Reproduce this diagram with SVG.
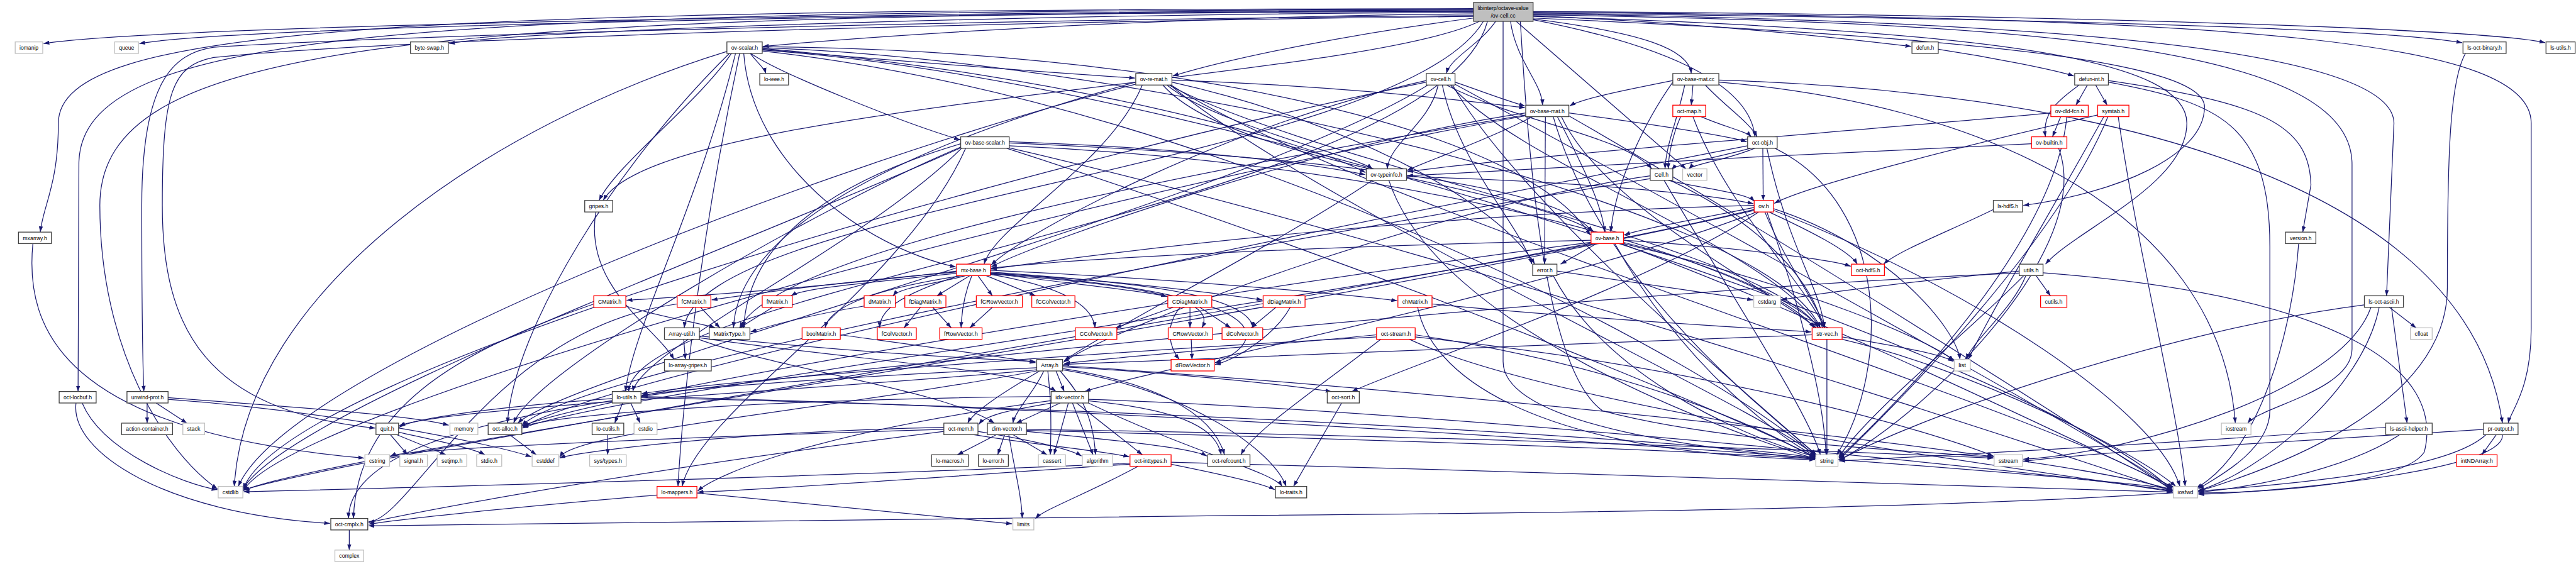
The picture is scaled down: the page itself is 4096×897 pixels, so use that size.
<svg xmlns="http://www.w3.org/2000/svg" width="4096" height="897" viewBox="0 0 4096 897">
<defs>
<marker id="a" markerWidth="14" markerHeight="10" refX="14" refY="5" orient="auto" markerUnits="userSpaceOnUse"><path d="M0,0L14,5L0,10z" fill="#191970"/></marker>
<style>
.e path{fill:none;stroke:#191970;stroke-width:1.9;marker-end:url(#a)}
.n rect{fill:#fff;stroke:#404040;stroke-width:2}
.x rect{fill:#fff;stroke:#bfbfbf;stroke-width:2}
.r rect{fill:#fff;stroke:#ff0000;stroke-width:2}
.m rect{fill:#bfbfbf;stroke:#404040;stroke-width:2}
text{font-family:"Liberation Sans",Arial,sans-serif;font-size:14px;fill:#000;text-anchor:middle}
</style>
</defs>
<rect width="4096" height="897" fill="#fff"/>
<g transform="scale(0.65337)">
<g id="edges" class="e">
<path d="M3586,24 C2400,28 400,60 106,106"/>
<path d="M3586,26 C2400,30 600,62 339,106"/>
<path d="M3586,30 C2600,34 1300,70 1093,106"/>
<path d="M3586,34 C2800,40 2100,90 1857,113"/>
<path d="M3586,21 C1000,24 142,60 142,300 C142,450 105,500 98,565"/>
<path d="M3586,23 C1000,27 192,70 192,400 L190,953"/>
<path d="M3586,38 C2200,50 900,90 520,115 C420,130 345,200 345,500 C345,800 348,900 350,953"/>
<path d="M3586,40 C2200,55 900,100 520,140 C420,160 395,220 395,500 C395,800 500,1000 913,1042"/>
<path d="M3586,28 C1000,33 243,100 243,500 C243,850 400,1100 529,1190"/>
<path d="M3600,52 C3300,200 1600,250 1468,488"/>
<path d="M3610,52 C3400,400 1700,500 1665,798"/>
<path d="M3620,52 C3500,500 1540,700 1530,953"/>
<path d="M3640,52 C3600,110 3530,140 3520,179"/>
<path d="M3731,46 C4000,80 4110,120 4116,179"/>
<path d="M3676,52 C3690,150 3752,200 3754,256"/>
<path d="M3586,44 C3300,80 3000,140 2854,185"/>
<path d="M3731,48 C4100,120 4260,220 4271,333"/>
<path d="M3731,38 C4200,60 4500,95 4651,113"/>
<path d="M3731,32 C5000,45 5800,70 5992,104"/>
<path d="M3731,28 C5000,35 6050,70 6194,104"/>
<path d="M3731,44 C4800,90 5365,150 5365,260 C5365,380 5150,470 4924,500"/>
<path d="M3731,34 C5000,50 5826,120 5826,300 L5808,720"/>
<path d="M3731,30 C5500,42 6160,100 6160,300 L6160,800 C6160,950 6110,1000 6104,1030"/>
<path d="M3731,40 C4900,75 5322,150 5322,300 C5322,450 5050,560 4978,643"/>
<path d="M3731,36 C5000,55 5724,120 5724,400 L5724,850 C5724,950 5500,990 5470,1030"/>
<path d="M3700,52 C3720,400 3760,900 3900,1000 C4200,1080 4700,1100 4851,1113"/>
<path d="M3690,52 L4103,411"/>
<path d="M3658,52 L3658,880 C3658,1050 4250,1100 4417,1117"/>
<path d="M1826,130 C1840,150 1860,165 1864,179"/>
<path d="M1855,120 C2200,150 2600,180 2762,190"/>
<path d="M1827,130 C1900,180 2200,300 2336,340"/>
<path d="M1780,130 C1700,250 1500,400 1458,488"/>
<path d="M1790,130 C1700,500 1540,800 1522,953"/>
<path d="M1800,130 C1700,600 1660,1000 1650,1184"/>
<path d="M1810,130 C1830,400 2100,600 2326,650"/>
<path d="M1775,130 C1500,400 1250,800 1235,1030"/>
<path d="M1855,116 C2800,150 4300,500 4430,798"/>
<path d="M1855,114 C2800,120 3700,300 3870,572"/>
<path d="M1855,118 C2600,180 3200,350 3323,420"/>
<path d="M1770,125 C1200,300 600,700 570,1184"/>
<path d="M1855,122 C3000,200 5000,900 5287,1195"/>
<path d="M1855,124 C3000,250 4200,900 4419,1112"/>
<path d="M2780,207 C2700,400 2420,550 2395,643"/>
<path d="M2764,200 C2400,300 1800,500 1785,798"/>
<path d="M2852,195 C3300,210 3600,250 3711,262"/>
<path d="M2830,207 C3000,400 3700,450 3880,565"/>
<path d="M2840,207 C2950,300 3300,380 3340,411"/>
<path d="M2852,200 C3300,300 3650,500 3735,643"/>
<path d="M2845,207 C3200,400 4300,600 4425,798"/>
<path d="M2764,205 C2000,400 700,900 580,1184"/>
<path d="M2850,207 C3300,500 5000,1000 5287,1192"/>
<path d="M2848,207 C3200,500 4300,1000 4419,1110"/>
<path d="M3471,196 C3000,300 2500,560 2412,645"/>
<path d="M3475,207 C3000,500 1400,900 1260,1030"/>
<path d="M3530,207 C3700,400 4300,600 4430,798"/>
<path d="M3520,207 C3700,300 3950,330 4020,411"/>
<path d="M3510,207 C3550,400 3700,550 3728,643"/>
<path d="M3541,200 C3600,220 3650,240 3711,258"/>
<path d="M3500,207 C3480,300 3380,350 3376,411"/>
<path d="M3471,200 C2500,400 700,900 592,1190"/>
<path d="M3541,205 C3900,400 5000,1000 5287,1188"/>
<path d="M3535,207 C3700,500 4300,1000 4420,1107"/>
<path d="M4100,207 C4080,300 4055,350 4052,411"/>
<path d="M4150,207 C4200,260 4260,300 4276,333"/>
<path d="M4120,207 L4116,256"/>
<path d="M4071,200 C4000,300 3930,450 3920,565"/>
<path d="M4071,196 C3950,220 3850,240 3820,258"/>
<path d="M4183,195 C5000,220 6000,400 6090,1030"/>
<path d="M4183,200 C4800,250 5400,500 5440,1030"/>
<path d="M4717,120 C4850,140 5000,170 5047,185"/>
<path d="M5080,207 L5052,256"/>
<path d="M5100,207 L5128,256"/>
<path d="M5060,207 C5000,250 4970,280 4978,333"/>
<path d="M5131,196 C5500,250 5620,300 5624,450 L5604,565"/>
<path d="M5131,200 C5400,250 5524,300 5524,600 L5524,1000 C5524,1100 5380,1170 5350,1190"/>
<path d="M3713,275 C3200,350 2500,600 2412,650"/>
<path d="M3713,280 C3000,400 1900,600 1800,798"/>
<path d="M3800,284 C3900,500 4300,700 4420,798"/>
<path d="M3761,284 L3759,643"/>
<path d="M3818,275 C4000,300 4200,330 4251,345"/>
<path d="M3790,284 C3850,400 3900,500 3905,565"/>
<path d="M3730,284 C3600,350 3450,400 3425,415"/>
<path d="M3713,282 C2500,500 700,1000 592,1195"/>
<path d="M3818,282 C4200,500 5000,1000 5287,1194"/>
<path d="M3780,284 C3900,700 4300,1000 4421,1108"/>
<path d="M4090,284 C4070,330 4060,380 4060,411"/>
<path d="M4140,284 C4200,310 4250,320 4262,333"/>
<path d="M4120,284 C4200,500 4400,700 4440,798"/>
<path d="M2350,361 C2200,700 1700,1000 1660,1184"/>
<path d="M2340,361 C2100,600 1560,850 1540,953"/>
<path d="M2338,358 C2000,500 1300,900 1250,1030"/>
<path d="M2456,355 C3500,400 4300,650 4415,798"/>
<path d="M2338,350 C2000,450 1820,600 1810,798"/>
<path d="M2456,348 C3200,380 3800,450 3875,565"/>
<path d="M2456,345 C2900,360 3200,400 3322,425"/>
<path d="M2338,360 C1800,600 700,1000 590,1192"/>
<path d="M2456,360 C3500,600 5000,1100 5287,1196"/>
<path d="M2450,361 C3500,700 4300,1050 4418,1113"/>
<path d="M4270,361 C4200,390 4120,400 4110,411"/>
<path d="M4260,361 C4150,390 4080,400 4068,413"/>
<path d="M4290,361 L4291,488"/>
<path d="M4253,355 C3500,500 1500,900 1272,1040"/>
<path d="M4300,361 C4350,600 4430,700 4440,798"/>
<path d="M4320,361 C4600,500 4600,900 4470,1107"/>
<path d="M4016,428 C3500,500 2700,800 2588,882"/>
<path d="M4060,439 C4150,460 4250,470 4270,490"/>
<path d="M4065,439 C4300,550 4420,700 4435,798"/>
<path d="M4016,435 C3000,600 1400,900 1270,1036"/>
<path d="M4050,439 C4200,700 4400,1000 4430,1107"/>
<path d="M3423,430 C3800,440 4150,470 4267,496"/>
<path d="M3340,439 C3100,600 2700,800 2590,878"/>
<path d="M3380,439 C3500,800 4200,1050 4418,1117"/>
<path d="M1450,516 C1420,700 1600,800 1640,875"/>
<path d="M80,593 C60,800 150,1050 886,1115"/>
<path d="M2328,660 C2000,700 1700,720 1525,731"/>
<path d="M2328,662 C2000,690 1800,720 1732,730"/>
<path d="M2330,665 C2100,690 1960,700 1925,720"/>
<path d="M2350,671 C2280,690 2190,700 2173,720"/>
<path d="M2360,671 L2280,720"/>
<path d="M2380,671 L2415,720"/>
<path d="M2400,671 L2520,720"/>
<path d="M2410,665 C2600,690 2800,710 2840,722"/>
<path d="M2410,662 C2800,690 3000,720 3072,730"/>
<path d="M2410,658 C2900,680 3300,720 3400,732"/>
<path d="M2340,671 C2150,700 2020,740 2008,798"/>
<path d="M2335,671 C2180,720 2140,760 2141,798"/>
<path d="M2365,671 C2345,720 2340,760 2339,798"/>
<path d="M2410,668 C2600,700 2660,750 2665,798"/>
<path d="M2410,667 C2900,700 2950,750 2925,798"/>
<path d="M2410,666 C2900,690 3040,740 3050,798"/>
<path d="M2410,664 C3200,720 3050,850 2957,883"/>
<path d="M1523,745 C1600,770 1720,790 1740,798"/>
<path d="M1445,740 C1100,860 870,1000 860,1262"/>
<path d="M1705,748 L1752,798"/>
<path d="M1648,740 C1200,800 1000,1268 897,1270"/>
<path d="M1880,748 L1800,798"/>
<path d="M2103,745 C1950,770 1850,800 1827,808"/>
<path d="M2240,748 L2200,798"/>
<path d="M2270,748 L2315,798"/>
<path d="M2415,748 L2360,798"/>
<path d="M2855,748 L2715,798"/>
<path d="M2896,748 L2896,798"/>
<path d="M2920,748 L2995,798"/>
<path d="M2872,748 C2830,800 2850,850 2870,875"/>
<path d="M3105,748 L3045,798"/>
<path d="M3140,748 C3100,820 3000,880 2957,887"/>
<path d="M2899,826 L2901,875"/>
<path d="M2045,815 C2300,850 2450,870 2520,883"/>
<path d="M3485,740 C3900,780 4300,800 4408,808"/>
<path d="M3450,748 C3480,900 3700,1100 4417,1119"/>
<path d="M1664,826 L1668,875"/>
<path d="M1702,818 C2000,850 2300,870 2520,880"/>
<path d="M1700,826 C1900,900 2300,950 2420,1030"/>
<path d="M1702,822 C2100,880 2500,900 2570,953"/>
<path d="M2570,903 L2590,953"/>
<path d="M2540,903 C2520,950 2470,1000 2465,1030"/>
<path d="M2530,903 C2450,950 2370,1000 2355,1030"/>
<path d="M2586,900 C2900,950 3100,1100 3130,1184"/>
<path d="M2586,893 C2900,910 3150,940 3240,953"/>
<path d="M2523,895 C2200,910 1700,940 1562,962"/>
<path d="M2523,900 C2000,950 1100,990 972,1036"/>
<path d="M2586,897 C2800,930 2950,1000 2980,1107"/>
<path d="M2550,903 C2555,950 2560,1000 2556,1107"/>
<path d="M2580,903 C2620,950 2660,1000 2666,1107"/>
<path d="M2523,903 C2000,1000 1400,1050 1362,1113"/>
<path d="M2586,890 C3500,950 5000,1100 5287,1193"/>
<path d="M2560,981 C2450,1000 2400,1010 2382,1033"/>
<path d="M2580,981 L2473,1030"/>
<path d="M2600,981 L2565,1107"/>
<path d="M2610,981 L2660,1107"/>
<path d="M2620,981 L2780,1107"/>
<path d="M2645,975 C2900,1000 2960,1050 2972,1107"/>
<path d="M2649,981 C2900,1100 3100,1150 3120,1184"/>
<path d="M2649,972 C3500,1000 5000,1150 5287,1195"/>
<path d="M2558,965 C2000,970 1400,1000 1272,1038"/>
<path d="M2558,975 C2000,1050 1750,1150 1698,1195"/>
<path d="M2297,1040 C1800,1050 1400,1100 1362,1115"/>
<path d="M2297,1045 C1800,1060 1000,1090 950,1110"/>
<path d="M2297,1050 C1500,1150 1000,1250 897,1272"/>
<path d="M2380,1050 C2500,1070 2600,1090 2632,1110"/>
<path d="M2370,1058 C2500,1080 2700,1100 2748,1112"/>
<path d="M2425,1058 L2330,1107"/>
<path d="M2445,1058 L2428,1107"/>
<path d="M2465,1058 L2548,1107"/>
<path d="M2455,1058 C2470,1150 2485,1200 2488,1262"/>
<path d="M2498,1050 C2700,1070 2900,1090 2937,1110"/>
<path d="M2498,1045 C3500,1060 4500,1100 4851,1115"/>
<path d="M2498,1048 C3400,1070 4200,1100 4417,1118"/>
<path d="M2770,1135 C2650,1200 2540,1240 2520,1262"/>
<path d="M2750,1130 C2300,1160 1900,1190 1698,1198"/>
<path d="M2850,1130 C3000,1160 3080,1180 3102,1192"/>
<path d="M2750,1128 C2000,1160 900,1190 593,1197"/>
<path d="M2850,1125 C3800,1150 5000,1190 5287,1198"/>
<path d="M1696,1200 C2000,1230 2300,1260 2463,1275"/>
<path d="M1599,1205 C1300,1230 1000,1260 897,1276"/>
<path d="M3265,981 L3148,1184"/>
<path d="M850,1290 L850,1339"/>
<path d="M1515,981 L1496,1030"/>
<path d="M1535,981 L1558,1030"/>
<path d="M1490,970 C1200,990 1000,1020 972,1040"/>
<path d="M1490,975 C1000,1050 850,1150 848,1262"/>
<path d="M1560,965 C3000,1000 5000,1150 5287,1190"/>
<path d="M1560,968 C3000,1000 4200,1080 4417,1114"/>
<path d="M1479,1058 L1479,1107"/>
<path d="M950,1058 L992,1107"/>
<path d="M965,1058 L1085,1107"/>
<path d="M970,1052 C1050,1070 1150,1090 1180,1107"/>
<path d="M1240,1058 L1305,1107"/>
<path d="M358,981 L358,1030"/>
<path d="M380,981 L455,1030"/>
<path d="M409,968 C700,990 1000,1010 1092,1035"/>
<path d="M409,972 C800,1000 1200,1080 1293,1112"/>
<path d="M185,981 C170,1100 400,1250 803,1274"/>
<path d="M200,981 C250,1100 450,1180 529,1192"/>
<path d="M4446,826 L4446,1107"/>
<path d="M4410,815 C3800,840 2900,870 2588,887"/>
<path d="M4483,820 C4600,840 4720,860 4754,880"/>
<path d="M4483,826 C4800,900 5200,1100 5295,1184"/>
<path d="M3350,815 C3100,840 2700,870 2590,885"/>
<path d="M3360,826 C3200,950 3050,1050 3020,1107"/>
<path d="M3350,820 C2800,850 1800,920 1562,958"/>
<path d="M3444,815 C4000,900 4300,1050 4418,1115"/>
<path d="M3444,820 C4200,900 4700,1050 4851,1110"/>
<path d="M3430,826 C3800,1000 5000,1150 5287,1197"/>
<path d="M4851,510 C4750,560 4620,610 4584,643"/>
<path d="M4955,671 L4990,720"/>
<path d="M4930,671 C4900,750 4800,830 4785,875"/>
<path d="M4914,660 C4700,680 4450,710 4335,730"/>
<path d="M4914,665 C4000,700 2000,900 1562,965"/>
<path d="M4972,664 C5700,720 5950,900 5900,1100 C5850,1180 5500,1200 5350,1200"/>
<path d="M4925,671 C4800,800 4550,1000 4475,1112"/>
<path d="M3789,660 C4000,690 4200,720 4266,730"/>
<path d="M3780,671 C3900,900 4200,1050 4418,1112"/>
<path d="M4269,505 C4150,530 4000,555 3953,572"/>
<path d="M4305,516 C4400,560 4500,610 4520,643"/>
<path d="M4295,516 C4350,650 4430,750 4440,798"/>
<path d="M4269,500 C3500,520 2800,600 2412,655"/>
<path d="M4275,516 C3800,700 2800,900 2640,953"/>
<path d="M4280,516 C4000,700 3400,900 3290,953"/>
<path d="M4269,510 C3500,700 1500,950 1272,1042"/>
<path d="M4316,508 C4600,600 4760,800 4770,875"/>
<path d="M4269,512 C3000,800 800,1100 593,1194"/>
<path d="M4316,512 C4800,700 5250,1000 5305,1184"/>
<path d="M4300,516 C4400,800 4440,1000 4444,1107"/>
<path d="M3885,593 L3798,643"/>
<path d="M3951,585 C4200,600 4450,630 4504,648"/>
<path d="M3951,590 C4200,650 4400,750 4425,798"/>
<path d="M3872,585 C3200,600 2600,630 2412,653"/>
<path d="M3872,590 C3000,700 1500,950 1272,1036"/>
<path d="M3951,593 C4400,700 4700,830 4755,878"/>
<path d="M3872,592 C2800,800 800,1120 593,1193"/>
<path d="M3945,593 C4500,800 5100,1100 5290,1186"/>
<path d="M3930,593 C4100,900 4350,1080 4420,1110"/>
<path d="M5015,284 L4995,333"/>
<path d="M4991,275 C4500,320 3700,380 3425,418"/>
<path d="M5030,284 C5000,600 4600,1000 4475,1115"/>
<path d="M5105,280 C4800,350 4400,450 4318,495"/>
<path d="M5130,284 C5000,600 4600,1000 4476,1118"/>
<path d="M5120,284 C5000,500 4850,750 4790,875"/>
<path d="M5155,284 C5200,600 5300,1000 5318,1184"/>
<path d="M4944,350 C4500,370 3700,410 3425,428"/>
<path d="M5010,361 C5100,600 4700,1000 4476,1120"/>
<path d="M5594,593 C5580,800 5500,1100 5345,1188"/>
<path d="M6000,130 C5960,200 5956,400 5956,700 C5956,1000 5500,1150 5350,1196"/>
<path d="M5815,748 L5880,798"/>
<path d="M5820,748 L5858,1030"/>
<path d="M5770,748 C5700,950 5200,1100 4924,1118"/>
<path d="M5790,748 C5750,950 5500,1150 5350,1194"/>
<path d="M5754,742 C5300,800 4700,1000 4476,1120"/>
<path d="M5806,1040 C5300,1080 4700,1110 4476,1122"/>
<path d="M5840,1058 C5700,1150 5450,1190 5350,1198"/>
<path d="M6075,1058 L6040,1107"/>
<path d="M6090,1058 C6100,1150 5500,1200 5350,1203"/>
<path d="M6050,1058 C5900,1200 5000,1240 3000,1255 C2000,1262 1200,1278 897,1280"/>
<path d="M6044,1045 C5500,1080 5100,1100 4924,1123"/>
</g>
<g id="main" class="m"><rect x="3586" y="6" width="145" height="46"/><text x="3658" y="25" textLength="124" lengthAdjust="spacingAndGlyphs">libinterp/octave-value</text><text x="3658" y="43" textLength="60" lengthAdjust="spacingAndGlyphs">/ov-cell.cc</text></g>
<g id="iomanip" class="x"><rect x="37" y="102" width="67" height="28"/><text x="70.5" y="121" textLength="46" lengthAdjust="spacingAndGlyphs">iomanip</text></g>
<g id="queue" class="x"><rect x="279" y="102" width="58" height="28"/><text x="308" y="121" textLength="37" lengthAdjust="spacingAndGlyphs">queue</text></g>
<g id="byte-swap" class="n"><rect x="999" y="102" width="92" height="28"/><text x="1045" y="121" textLength="71" lengthAdjust="spacingAndGlyphs">byte-swap.h</text></g>
<g id="ov-scalar" class="n"><rect x="1769" y="102" width="86" height="28"/><text x="1812" y="121" textLength="65" lengthAdjust="spacingAndGlyphs">ov-scalar.h</text></g>
<g id="defun" class="n"><rect x="4653" y="102" width="64" height="28"/><text x="4685" y="121" textLength="43" lengthAdjust="spacingAndGlyphs">defun.h</text></g>
<g id="ls-oct-binary" class="n"><rect x="5994" y="102" width="105" height="28"/><text x="6046.5" y="121" textLength="84" lengthAdjust="spacingAndGlyphs">ls-oct-binary.h</text></g>
<g id="ls-utils" class="n"><rect x="6196" y="102" width="71" height="28"/><text x="6231.5" y="121" textLength="50" lengthAdjust="spacingAndGlyphs">ls-utils.h</text></g>
<g id="lo-ieee" class="n"><rect x="1849" y="179" width="70" height="28"/><text x="1884" y="198" textLength="49" lengthAdjust="spacingAndGlyphs">lo-ieee.h</text></g>
<g id="ov-re-mat" class="n"><rect x="2764" y="179" width="88" height="28"/><text x="2808" y="198" textLength="67" lengthAdjust="spacingAndGlyphs">ov-re-mat.h</text></g>
<g id="ov-cell-h" class="n"><rect x="3471" y="179" width="70" height="28"/><text x="3506" y="198" textLength="49" lengthAdjust="spacingAndGlyphs">ov-cell.h</text></g>
<g id="ov-base-mat-cc" class="n"><rect x="4071" y="179" width="112" height="28"/><text x="4127" y="198" textLength="91" lengthAdjust="spacingAndGlyphs">ov-base-mat.cc</text></g>
<g id="defun-int" class="n"><rect x="5049" y="179" width="82" height="28"/><text x="5090" y="198" textLength="61" lengthAdjust="spacingAndGlyphs">defun-int.h</text></g>
<g id="ov-base-mat-h" class="n"><rect x="3713" y="256" width="105" height="28"/><text x="3765.5" y="275" textLength="84" lengthAdjust="spacingAndGlyphs">ov-base-mat.h</text></g>
<g id="oct-map" class="r"><rect x="4071" y="256" width="80" height="28"/><text x="4111" y="275" textLength="59" lengthAdjust="spacingAndGlyphs">oct-map.h</text></g>
<g id="ov-dld-fcn" class="r"><rect x="4991" y="256" width="91" height="28"/><text x="5036.5" y="275" textLength="70" lengthAdjust="spacingAndGlyphs">ov-dld-fcn.h</text></g>
<g id="symtab" class="r"><rect x="5105" y="256" width="76" height="28"/><text x="5143" y="275" textLength="55" lengthAdjust="spacingAndGlyphs">symtab.h</text></g>
<g id="ov-base-scalar" class="n"><rect x="2338" y="333" width="118" height="28"/><text x="2397" y="352" textLength="97" lengthAdjust="spacingAndGlyphs">ov-base-scalar.h</text></g>
<g id="oct-obj" class="n"><rect x="4253" y="333" width="72" height="28"/><text x="4289" y="352" textLength="51" lengthAdjust="spacingAndGlyphs">oct-obj.h</text></g>
<g id="ov-builtin" class="r"><rect x="4944" y="333" width="86" height="28"/><text x="4987" y="352" textLength="65" lengthAdjust="spacingAndGlyphs">ov-builtin.h</text></g>
<g id="ov-typeinfo" class="n"><rect x="3325" y="411" width="98" height="28"/><text x="3374" y="430" textLength="77" lengthAdjust="spacingAndGlyphs">ov-typeinfo.h</text></g>
<g id="Cell" class="n"><rect x="4016" y="411" width="55" height="28"/><text x="4043.5" y="430" textLength="34" lengthAdjust="spacingAndGlyphs">Cell.h</text></g>
<g id="vector" class="x"><rect x="4095" y="411" width="59" height="28"/><text x="4124.5" y="430" textLength="38" lengthAdjust="spacingAndGlyphs">vector</text></g>
<g id="gripes" class="n"><rect x="1423" y="488" width="68" height="28"/><text x="1457" y="507" textLength="47" lengthAdjust="spacingAndGlyphs">gripes.h</text></g>
<g id="ov" class="r"><rect x="4269" y="488" width="47" height="28"/><text x="4292.5" y="507" textLength="26" lengthAdjust="spacingAndGlyphs">ov.h</text></g>
<g id="ls-hdf5" class="n"><rect x="4851" y="488" width="71" height="28"/><text x="4886.5" y="507" textLength="50" lengthAdjust="spacingAndGlyphs">ls-hdf5.h</text></g>
<g id="mxarray" class="n"><rect x="45" y="565" width="80" height="28"/><text x="85" y="584" textLength="59" lengthAdjust="spacingAndGlyphs">mxarray.h</text></g>
<g id="ov-base" class="r"><rect x="3872" y="565" width="79" height="28"/><text x="3911.5" y="584" textLength="58" lengthAdjust="spacingAndGlyphs">ov-base.h</text></g>
<g id="version" class="n"><rect x="5562" y="565" width="74" height="28"/><text x="5599" y="584" textLength="53" lengthAdjust="spacingAndGlyphs">version.h</text></g>
<g id="mx-base" class="r"><rect x="2328" y="643" width="82" height="28"/><text x="2369" y="662" textLength="61" lengthAdjust="spacingAndGlyphs">mx-base.h</text></g>
<g id="error" class="n"><rect x="3730" y="643" width="59" height="28"/><text x="3759.5" y="662" textLength="38" lengthAdjust="spacingAndGlyphs">error.h</text></g>
<g id="oct-hdf5" class="r"><rect x="4506" y="643" width="80" height="28"/><text x="4546" y="662" textLength="59" lengthAdjust="spacingAndGlyphs">oct-hdf5.h</text></g>
<g id="utils" class="n"><rect x="4914" y="643" width="58" height="28"/><text x="4943" y="662" textLength="37" lengthAdjust="spacingAndGlyphs">utils.h</text></g>
<g id="CMatrix" class="r"><rect x="1445" y="720" width="78" height="28"/><text x="1484" y="739" textLength="57" lengthAdjust="spacingAndGlyphs">CMatrix.h</text></g>
<g id="fCMatrix" class="r"><rect x="1648" y="720" width="82" height="28"/><text x="1689" y="739" textLength="61" lengthAdjust="spacingAndGlyphs">fCMatrix.h</text></g>
<g id="fMatrix" class="r"><rect x="1855" y="720" width="73" height="28"/><text x="1891.5" y="739" textLength="52" lengthAdjust="spacingAndGlyphs">fMatrix.h</text></g>
<g id="dMatrix" class="r"><rect x="2103" y="720" width="76" height="28"/><text x="2141" y="739" textLength="55" lengthAdjust="spacingAndGlyphs">dMatrix.h</text></g>
<g id="fDiagMatrix" class="r"><rect x="2202" y="720" width="100" height="28"/><text x="2252" y="739" textLength="79" lengthAdjust="spacingAndGlyphs">fDiagMatrix.h</text></g>
<g id="fCRowVector" class="r"><rect x="2376" y="720" width="112" height="28"/><text x="2432" y="739" textLength="91" lengthAdjust="spacingAndGlyphs">fCRowVector.h</text></g>
<g id="fCColVector" class="r"><rect x="2511" y="720" width="105" height="28"/><text x="2563.5" y="739" textLength="84" lengthAdjust="spacingAndGlyphs">fCColVector.h</text></g>
<g id="CDiagMatrix" class="r"><rect x="2842" y="720" width="107" height="28"/><text x="2895.5" y="739" textLength="86" lengthAdjust="spacingAndGlyphs">CDiagMatrix.h</text></g>
<g id="dDiagMatrix" class="r"><rect x="3074" y="720" width="102" height="28"/><text x="3125" y="739" textLength="81" lengthAdjust="spacingAndGlyphs">dDiagMatrix.h</text></g>
<g id="chMatrix" class="r"><rect x="3402" y="720" width="83" height="28"/><text x="3443.5" y="739" textLength="62" lengthAdjust="spacingAndGlyphs">chMatrix.h</text></g>
<g id="cstdarg" class="x"><rect x="4268" y="720" width="65" height="28"/><text x="4300.5" y="739" textLength="44" lengthAdjust="spacingAndGlyphs">cstdarg</text></g>
<g id="cutils" class="r"><rect x="4966" y="720" width="64" height="28"/><text x="4998" y="739" textLength="43" lengthAdjust="spacingAndGlyphs">cutils.h</text></g>
<g id="ls-oct-ascii" class="n"><rect x="5754" y="720" width="95" height="28"/><text x="5801.5" y="739" textLength="74" lengthAdjust="spacingAndGlyphs">ls-oct-ascii.h</text></g>
<g id="Array-util" class="n"><rect x="1617" y="798" width="85" height="28"/><text x="1659.5" y="817" textLength="64" lengthAdjust="spacingAndGlyphs">Array-util.h</text></g>
<g id="MatrixType" class="n"><rect x="1726" y="798" width="99" height="28"/><text x="1775.5" y="817" textLength="78" lengthAdjust="spacingAndGlyphs">MatrixType.h</text></g>
<g id="boolMatrix" class="r"><rect x="1952" y="798" width="93" height="28"/><text x="1998.5" y="817" textLength="72" lengthAdjust="spacingAndGlyphs">boolMatrix.h</text></g>
<g id="fColVector" class="r"><rect x="2135" y="798" width="95" height="28"/><text x="2182.5" y="817" textLength="74" lengthAdjust="spacingAndGlyphs">fColVector.h</text></g>
<g id="fRowVector" class="r"><rect x="2287" y="798" width="103" height="28"/><text x="2338.5" y="817" textLength="82" lengthAdjust="spacingAndGlyphs">fRowVector.h</text></g>
<g id="CColVector" class="r"><rect x="2617" y="798" width="101" height="28"/><text x="2667.5" y="817" textLength="80" lengthAdjust="spacingAndGlyphs">CColVector.h</text></g>
<g id="CRowVector" class="r"><rect x="2843" y="798" width="108" height="28"/><text x="2897" y="817" textLength="87" lengthAdjust="spacingAndGlyphs">CRowVector.h</text></g>
<g id="dColVector" class="r"><rect x="2974" y="798" width="99" height="28"/><text x="3023.5" y="817" textLength="78" lengthAdjust="spacingAndGlyphs">dColVector.h</text></g>
<g id="oct-stream" class="r"><rect x="3350" y="798" width="94" height="28"/><text x="3397" y="817" textLength="73" lengthAdjust="spacingAndGlyphs">oct-stream.h</text></g>
<g id="str-vec" class="r"><rect x="4410" y="798" width="73" height="28"/><text x="4446.5" y="817" textLength="52" lengthAdjust="spacingAndGlyphs">str-vec.h</text></g>
<g id="cfloat" class="x"><rect x="5866" y="798" width="53" height="28"/><text x="5892.5" y="817" textLength="32" lengthAdjust="spacingAndGlyphs">cfloat</text></g>
<g id="lo-array-gripes" class="n"><rect x="1617" y="875" width="114" height="28"/><text x="1674" y="894" textLength="93" lengthAdjust="spacingAndGlyphs">lo-array-gripes.h</text></g>
<g id="Array" class="n"><rect x="2523" y="875" width="63" height="28"/><text x="2554.5" y="894" textLength="42" lengthAdjust="spacingAndGlyphs">Array.h</text></g>
<g id="dRowVector" class="r"><rect x="2850" y="875" width="105" height="28"/><text x="2902.5" y="894" textLength="84" lengthAdjust="spacingAndGlyphs">dRowVector.h</text></g>
<g id="list" class="x"><rect x="4756" y="875" width="39" height="28"/><text x="4775.5" y="894" textLength="18" lengthAdjust="spacingAndGlyphs">list</text></g>
<g id="oct-locbuf" class="n"><rect x="144" y="953" width="90" height="28"/><text x="189" y="972" textLength="69" lengthAdjust="spacingAndGlyphs">oct-locbuf.h</text></g>
<g id="unwind-prot" class="n"><rect x="309" y="953" width="100" height="28"/><text x="359" y="972" textLength="79" lengthAdjust="spacingAndGlyphs">unwind-prot.h</text></g>
<g id="lo-utils" class="n"><rect x="1490" y="953" width="70" height="28"/><text x="1525" y="972" textLength="49" lengthAdjust="spacingAndGlyphs">lo-utils.h</text></g>
<g id="idx-vector" class="n"><rect x="2558" y="953" width="91" height="28"/><text x="2603.5" y="972" textLength="70" lengthAdjust="spacingAndGlyphs">idx-vector.h</text></g>
<g id="oct-sort" class="n"><rect x="3230" y="953" width="78" height="28"/><text x="3269" y="972" textLength="57" lengthAdjust="spacingAndGlyphs">oct-sort.h</text></g>
<g id="action-container" class="n"><rect x="296" y="1030" width="124" height="28"/><text x="358" y="1049" textLength="103" lengthAdjust="spacingAndGlyphs">action-container.h</text></g>
<g id="stack" class="x"><rect x="445" y="1030" width="53" height="28"/><text x="471.5" y="1049" textLength="32" lengthAdjust="spacingAndGlyphs">stack</text></g>
<g id="quit" class="n"><rect x="915" y="1030" width="55" height="28"/><text x="942.5" y="1049" textLength="34" lengthAdjust="spacingAndGlyphs">quit.h</text></g>
<g id="memory" class="x"><rect x="1095" y="1030" width="68" height="28"/><text x="1129" y="1049" textLength="47" lengthAdjust="spacingAndGlyphs">memory</text></g>
<g id="oct-alloc" class="n"><rect x="1188" y="1030" width="82" height="28"/><text x="1229" y="1049" textLength="61" lengthAdjust="spacingAndGlyphs">oct-alloc.h</text></g>
<g id="lo-cutils" class="n"><rect x="1441" y="1030" width="77" height="28"/><text x="1479.5" y="1049" textLength="56" lengthAdjust="spacingAndGlyphs">lo-cutils.h</text></g>
<g id="cstdio" class="x"><rect x="1543" y="1030" width="56" height="28"/><text x="1571" y="1049" textLength="35" lengthAdjust="spacingAndGlyphs">cstdio</text></g>
<g id="oct-mem" class="n"><rect x="2297" y="1030" width="83" height="28"/><text x="2338.5" y="1049" textLength="62" lengthAdjust="spacingAndGlyphs">oct-mem.h</text></g>
<g id="dim-vector" class="n"><rect x="2403" y="1030" width="95" height="28"/><text x="2450.5" y="1049" textLength="74" lengthAdjust="spacingAndGlyphs">dim-vector.h</text></g>
<g id="iostream" class="x"><rect x="5406" y="1030" width="72" height="28"/><text x="5442" y="1049" textLength="51" lengthAdjust="spacingAndGlyphs">iostream</text></g>
<g id="ls-ascii-helper" class="n"><rect x="5806" y="1030" width="113" height="28"/><text x="5862.5" y="1049" textLength="92" lengthAdjust="spacingAndGlyphs">ls-ascii-helper.h</text></g>
<g id="pr-output" class="n"><rect x="6044" y="1030" width="84" height="28"/><text x="6086" y="1049" textLength="63" lengthAdjust="spacingAndGlyphs">pr-output.h</text></g>
<g id="cstring" class="x"><rect x="888" y="1107" width="60" height="28"/><text x="918" y="1126" textLength="39" lengthAdjust="spacingAndGlyphs">cstring</text></g>
<g id="signal" class="x"><rect x="973" y="1107" width="67" height="28"/><text x="1006.5" y="1126" textLength="46" lengthAdjust="spacingAndGlyphs">signal.h</text></g>
<g id="setjmp" class="x"><rect x="1064" y="1107" width="72" height="28"/><text x="1100" y="1126" textLength="51" lengthAdjust="spacingAndGlyphs">setjmp.h</text></g>
<g id="stdio" class="x"><rect x="1160" y="1107" width="61" height="28"/><text x="1190.5" y="1126" textLength="40" lengthAdjust="spacingAndGlyphs">stdio.h</text></g>
<g id="cstddef" class="x"><rect x="1295" y="1107" width="65" height="28"/><text x="1327.5" y="1126" textLength="44" lengthAdjust="spacingAndGlyphs">cstddef</text></g>
<g id="sys-types" class="x"><rect x="1435" y="1107" width="89" height="28"/><text x="1479.5" y="1126" textLength="68" lengthAdjust="spacingAndGlyphs">sys/types.h</text></g>
<g id="lo-macros" class="n"><rect x="2267" y="1107" width="90" height="28"/><text x="2312" y="1126" textLength="69" lengthAdjust="spacingAndGlyphs">lo-macros.h</text></g>
<g id="lo-error" class="n"><rect x="2381" y="1107" width="73" height="28"/><text x="2417.5" y="1126" textLength="52" lengthAdjust="spacingAndGlyphs">lo-error.h</text></g>
<g id="cassert" class="x"><rect x="2527" y="1107" width="66" height="28"/><text x="2560" y="1126" textLength="45" lengthAdjust="spacingAndGlyphs">cassert</text></g>
<g id="algorithm" class="x"><rect x="2634" y="1107" width="74" height="28"/><text x="2671" y="1126" textLength="53" lengthAdjust="spacingAndGlyphs">algorithm</text></g>
<g id="oct-inttypes" class="r"><rect x="2750" y="1107" width="100" height="28"/><text x="2800" y="1126" textLength="79" lengthAdjust="spacingAndGlyphs">oct-inttypes.h</text></g>
<g id="oct-refcount" class="n"><rect x="2939" y="1107" width="103" height="28"/><text x="2990.5" y="1126" textLength="82" lengthAdjust="spacingAndGlyphs">oct-refcount.h</text></g>
<g id="string" class="x"><rect x="4419" y="1107" width="54" height="28"/><text x="4446" y="1126" textLength="33" lengthAdjust="spacingAndGlyphs">string</text></g>
<g id="sstream" class="x"><rect x="4853" y="1107" width="69" height="28"/><text x="4887.5" y="1126" textLength="48" lengthAdjust="spacingAndGlyphs">sstream</text></g>
<g id="intNDArray" class="r"><rect x="5978" y="1107" width="99" height="28"/><text x="6027.5" y="1126" textLength="78" lengthAdjust="spacingAndGlyphs">intNDArray.h</text></g>
<g id="cstdlib" class="x"><rect x="531" y="1184" width="60" height="28"/><text x="561" y="1203" textLength="39" lengthAdjust="spacingAndGlyphs">cstdlib</text></g>
<g id="lo-mappers" class="r"><rect x="1599" y="1184" width="97" height="28"/><text x="1647.5" y="1203" textLength="76" lengthAdjust="spacingAndGlyphs">lo-mappers.h</text></g>
<g id="lo-traits" class="n"><rect x="3104" y="1184" width="76" height="28"/><text x="3142" y="1203" textLength="55" lengthAdjust="spacingAndGlyphs">lo-traits.h</text></g>
<g id="iosfwd" class="x"><rect x="5289" y="1184" width="59" height="28"/><text x="5318.5" y="1203" textLength="38" lengthAdjust="spacingAndGlyphs">iosfwd</text></g>
<g id="oct-cmplx" class="n"><rect x="805" y="1262" width="90" height="28"/><text x="850" y="1281" textLength="69" lengthAdjust="spacingAndGlyphs">oct-cmplx.h</text></g>
<g id="limits" class="x"><rect x="2465" y="1262" width="51" height="28"/><text x="2490.5" y="1281" textLength="30" lengthAdjust="spacingAndGlyphs">limits</text></g>
<g id="complex" class="x"><rect x="815" y="1339" width="70" height="28"/><text x="850" y="1358" textLength="49" lengthAdjust="spacingAndGlyphs">complex</text></g>
</g>
</svg>
